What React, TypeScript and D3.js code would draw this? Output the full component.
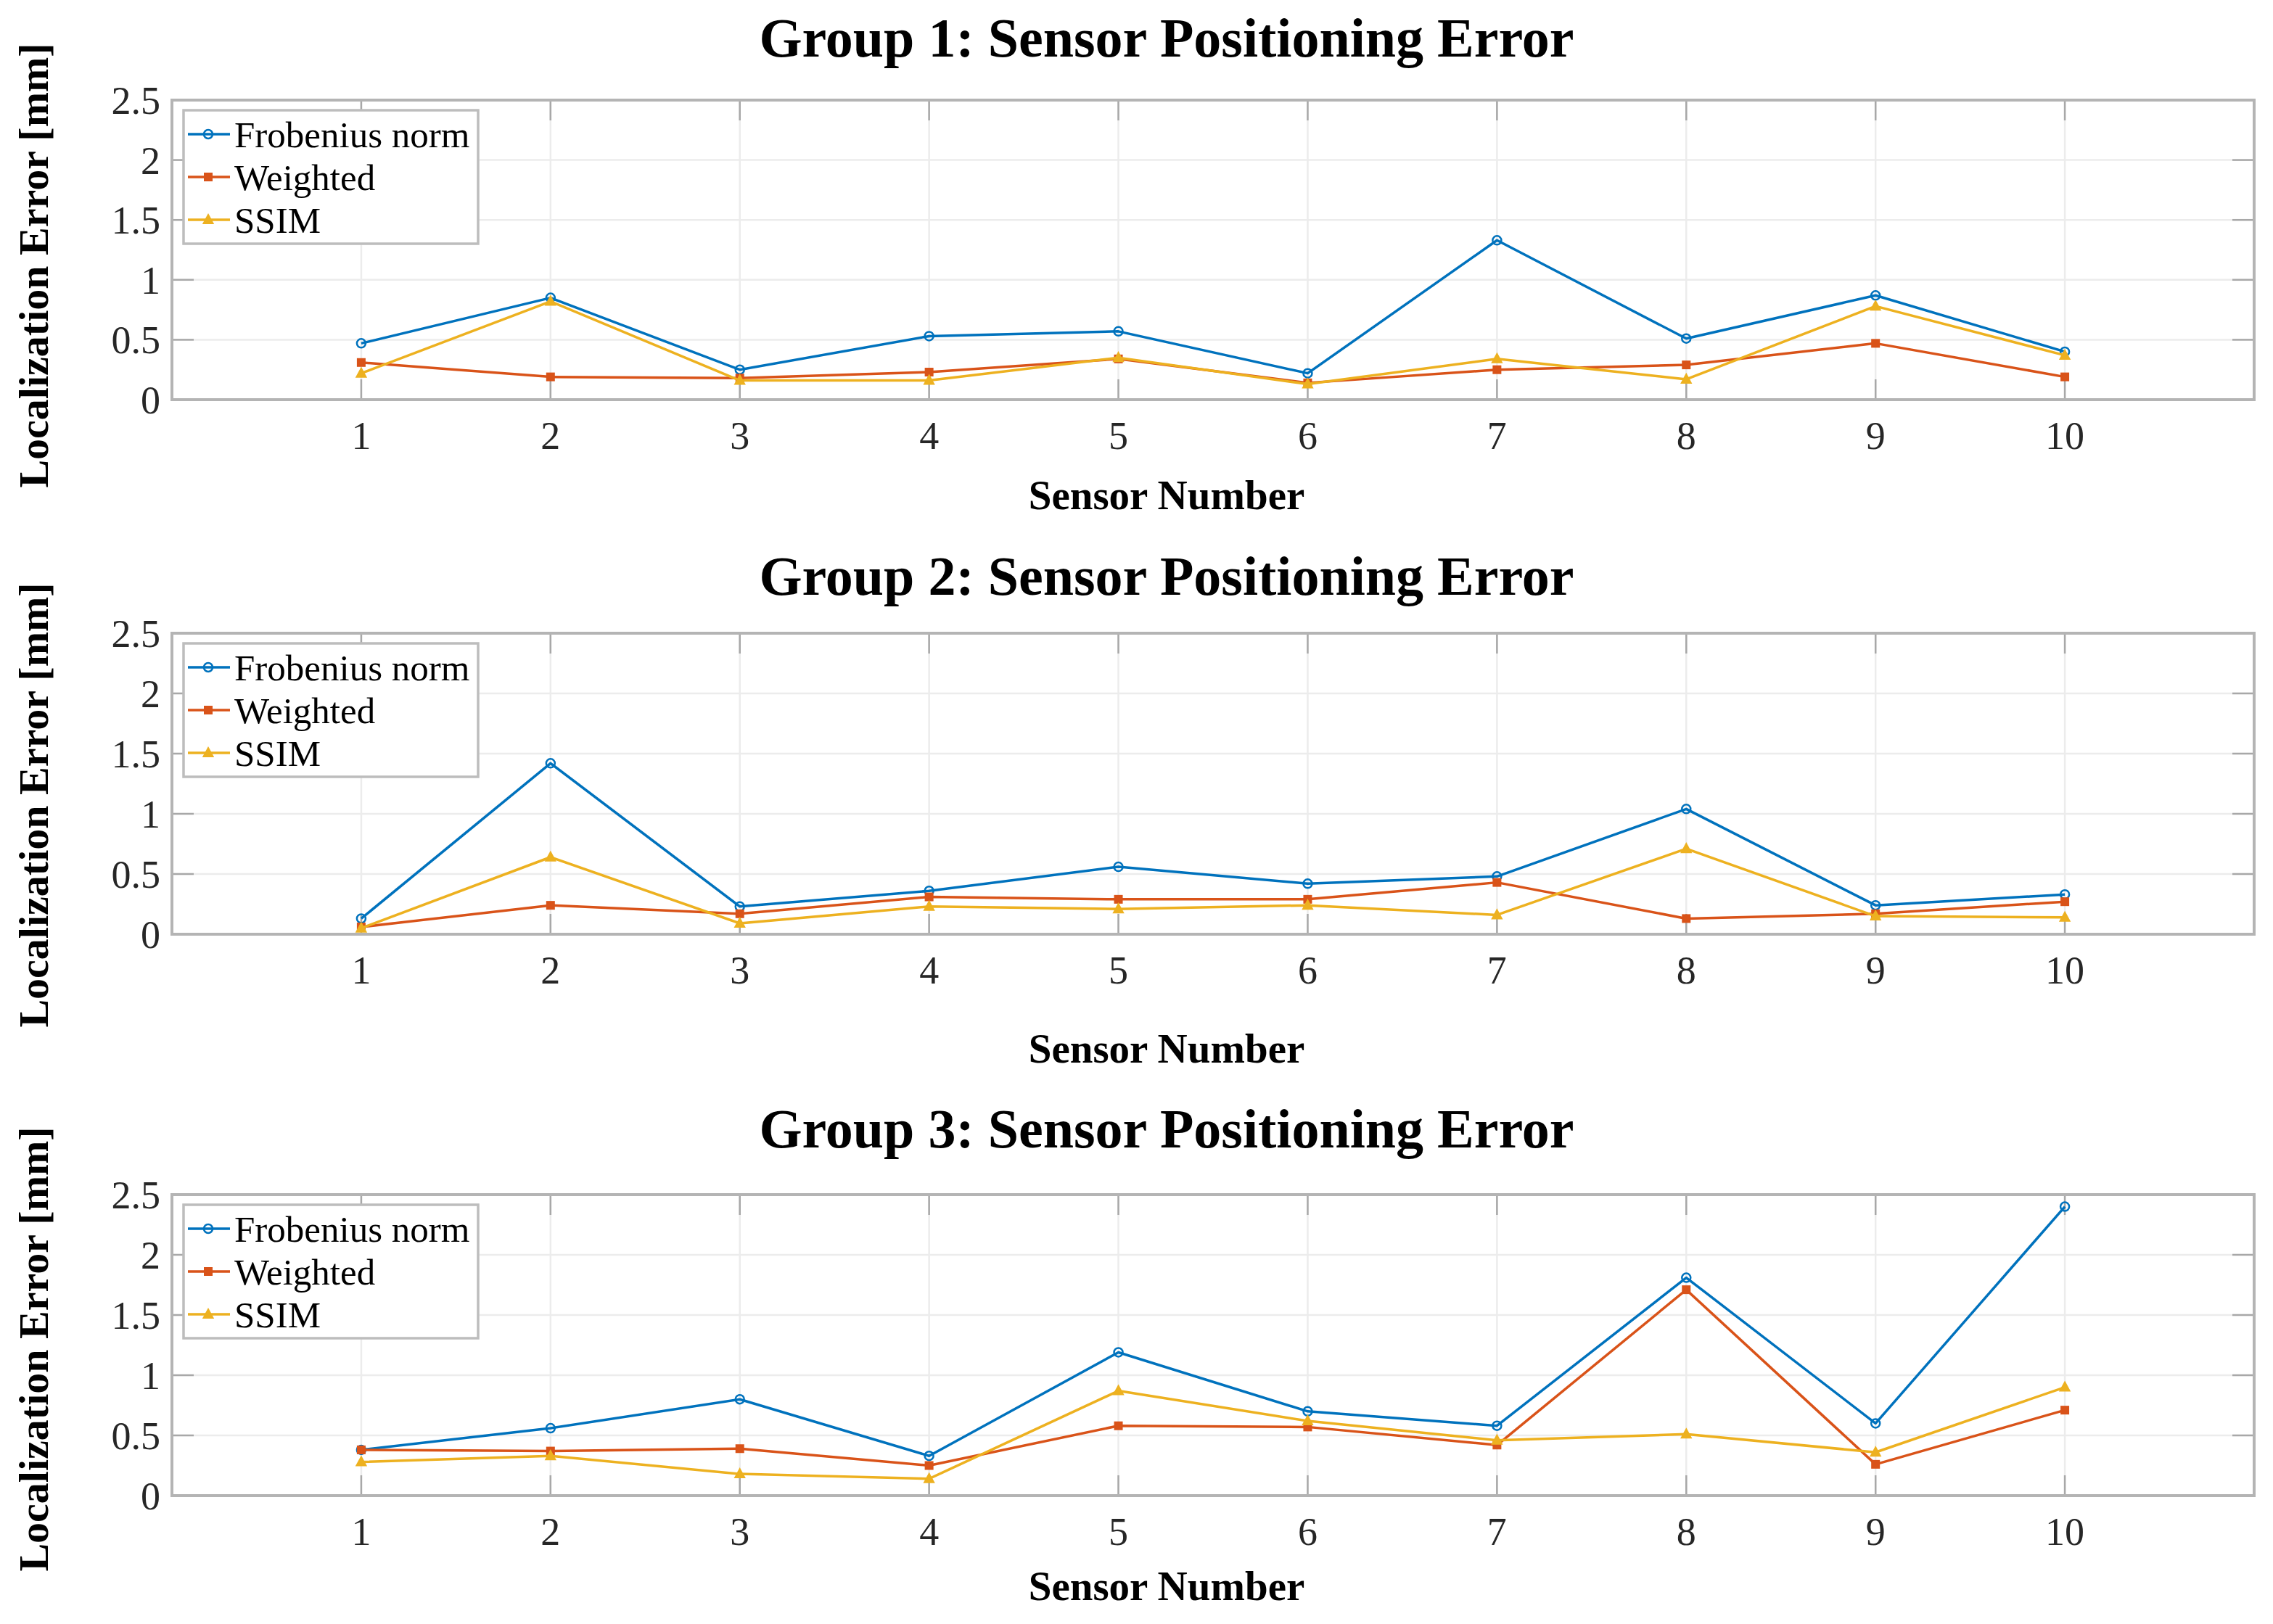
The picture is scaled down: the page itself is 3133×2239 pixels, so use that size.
import React from 'react';
import * as d3 from 'd3';

// sensor indices on x
const sensors = [1, 2, 3, 4, 5, 6, 7, 8, 9, 10];

// values (mm)
const group1Frobenius = [0.47, 0.85, 0.25, 0.53, 0.57, 0.22, 1.33, 0.51, 0.87, 0.40];
const group1Weighted = [0.31, 0.19, 0.18, 0.23, 0.34, 0.14, 0.25, 0.29, 0.47, 0.19];
const group1Ssim = [0.22, 0.82, 0.16, 0.16, 0.35, 0.13, 0.34, 0.17, 0.78, 0.37];

const group2Frobenius = [0.13, 1.42, 0.23, 0.36, 0.56, 0.42, 0.48, 1.04, 0.24, 0.33];
const group2Weighted = [0.06, 0.24, 0.17, 0.31, 0.29, 0.29, 0.43, 0.13, 0.17, 0.27];
const group2Ssim = [0.05, 0.64, 0.09, 0.23, 0.21, 0.24, 0.16, 0.71, 0.15, 0.14];

const group3Frobenius = [0.38, 0.56, 0.80, 0.33, 1.19, 0.70, 0.58, 1.81, 0.60, 2.40];
const group3Weighted = [0.38, 0.37, 0.39, 0.25, 0.58, 0.57, 0.42, 1.71, 0.26, 0.71];
const group3Ssim = [0.28, 0.33, 0.18, 0.14, 0.87, 0.62, 0.46, 0.51, 0.36, 0.90];

const groupTitles = [
    'Group 1: Sensor Positioning Error',
    'Group 2: Sensor Positioning Error',
    'Group 3: Sensor Positioning Error',
];

const seriesNames = ['Frobenius norm', 'Weighted', 'SSIM'];
const yTicks = [0, 0.5, 1, 1.5, 2, 2.5];
const yTickLabels = ['0', '0.5', '1', '1.5', '2', '2.5'];

const groups = [
    [group1Frobenius, group1Weighted, group1Ssim],
    [group2Frobenius, group2Weighted, group2Ssim],
    [group3Frobenius, group3Weighted, group3Ssim],
];

const COLORS = ['#0072BD', '#D95319', '#EDB120'];
const FONT = '"Liberation Serif", "Times New Roman", serif';

const WIDTH = 3133,
    HEIGHT = 2239;
const PLOT_LEFT = 237,
    PLOT_RIGHT = 3107;

// per panel layout
const PANELS = [
    { top: 138, bottom: 551, titleY: 78, xLabelY: 702, yLabelCy: 366 },
    { top: 873, bottom: 1288, titleY: 820, xLabelY: 1465, yLabelCy: 1110 },
    { top: 1647, bottom: 2062, titleY: 1582, xLabelY: 2206, yLabelCy: 1860 },
];

const CENTER_X = 1608;

const Marker = ({ kind, x, y, color }: { kind: number; x: number; y: number; color: string }) => {
    if (kind === 0) return <circle cx={x} cy={y} r={6} fill='none' stroke={color} strokeWidth={2.5} />;
    if (kind === 1) return <rect x={x - 5} y={y - 5} width={10} height={10} fill={color} stroke={color} strokeWidth={2} />;
    return <path d={`M${x},${y - 7}L${x + 6.5},${y + 5}L${x - 6.5},${y + 5}Z`} fill={color} stroke={color} strokeWidth={2} />;
};

const Panel = ({ index }: { index: number }) => {
    const p = PANELS[index];
    const data = groups[index];

    const x = d3.scaleLinear().domain([0, 11]).range([PLOT_LEFT, PLOT_RIGHT]);
    const y = d3.scaleLinear().domain([0, 2.5]).range([p.bottom, p.top]);

    const line = d3.line<number>()
        .x((_, i) => x(sensors[i]))
        .y(d => y(d));

    const lx = PLOT_LEFT + 16,
        ly = p.top + 14;

    return (
        <g>
            <text x={CENTER_X} y={p.titleY} textAnchor='middle' fontFamily={FONT} fontWeight='bold' fontSize={76}>{groupTitles[index]}</text>

            {/* grid */}
            {yTicks.slice(1, -1).map(t => (
                <line key={`gy-${t}`} x1={PLOT_LEFT} x2={PLOT_RIGHT} y1={y(t)} y2={y(t)} stroke='#ececec' strokeWidth={2.5} />
            ))}
            {sensors.map(s => (
                <line key={`gx-${s}`} x1={x(s)} x2={x(s)} y1={p.top} y2={p.bottom} stroke='#ececec' strokeWidth={2.5} />
            ))}

            {/* ticks, inward on all four sides */}
            {sensors.map(s => (
                <g key={`tx-${s}`} stroke='#a8a8a8' strokeWidth={2.5}>
                    <line x1={x(s)} x2={x(s)} y1={p.bottom} y2={p.bottom - 28} />
                    <line x1={x(s)} x2={x(s)} y1={p.top} y2={p.top + 28} />
                </g>
            ))}
            {yTicks.slice(1, -1).map(t => (
                <g key={`ty-${t}`} stroke='#a8a8a8' strokeWidth={2.5}>
                    <line x1={PLOT_LEFT} x2={PLOT_LEFT + 30} y1={y(t)} y2={y(t)} />
                    <line x1={PLOT_RIGHT} x2={PLOT_RIGHT - 30} y1={y(t)} y2={y(t)} />
                </g>
            ))}

            <rect x={PLOT_LEFT} y={p.top} width={PLOT_RIGHT - PLOT_LEFT} height={p.bottom - p.top} fill='none' stroke='#b4b4b4' strokeWidth={4} />

            {/* tick labels */}
            {yTicks.map((t, i) => (
                <text key={`yl-${t}`} x={221} y={y(t)} dy='0.35em' textAnchor='end' fontFamily={FONT} fontSize={54} fill='#262626'>{yTickLabels[i]}</text>
            ))}
            {sensors.map(s => (
                <text key={`xl-${s}`} x={x(s)} y={p.bottom + 68} textAnchor='middle' fontFamily={FONT} fontSize={54} fill='#262626'>{s}</text>
            ))}

            <text x={CENTER_X} y={p.xLabelY} textAnchor='middle' fontFamily={FONT} fontWeight='bold' fontSize={57}>Sensor Number</text>
            <text transform={`translate(66,${p.yLabelCy}) rotate(-90)`} textAnchor='middle' fontFamily={FONT} fontWeight='bold' fontSize={58}>Localization Error [mm]</text>

            {/* series */}
            {data.map((vals, k) => (
                <g key={`s-${k}`}>
                    <path d={line(vals) || ''} fill='none' stroke={COLORS[k]} strokeWidth={3.5} strokeLinejoin='round' />
                    {vals.map((v, i) => <Marker key={i} kind={k} x={x(sensors[i])} y={y(v)} color={COLORS[k]} />)}
                </g>
            ))}

            {/* legend */}
            <rect x={lx} y={ly} width={406} height={184} fill='white' stroke='#bdbdbd' strokeWidth={3.5} />
            {seriesNames.map((name, k) => {
                const cy = ly + 33 + k * 59;
                return (
                    <g key={name}>
                        <line x1={lx + 6} x2={lx + 64} y1={cy} y2={cy} stroke={COLORS[k]} strokeWidth={3.5} />
                        <Marker kind={k} x={lx + 34} y={cy} color={COLORS[k]} />
                        <text x={lx + 70} y={cy} dy='0.35em' fontFamily={FONT} fontSize={51}>{name}</text>
                    </g>
                );
            })}
        </g>
    );
};

export default function App() {
    return (
        <svg width={WIDTH} height={HEIGHT} style={{ position: 'absolute', left: 0, top: 0, background: 'white' }}>
            <rect width={WIDTH} height={HEIGHT} fill='white' />
            {PANELS.map((_, i) => <Panel key={i} index={i} />)}
        </svg>
    );
}
